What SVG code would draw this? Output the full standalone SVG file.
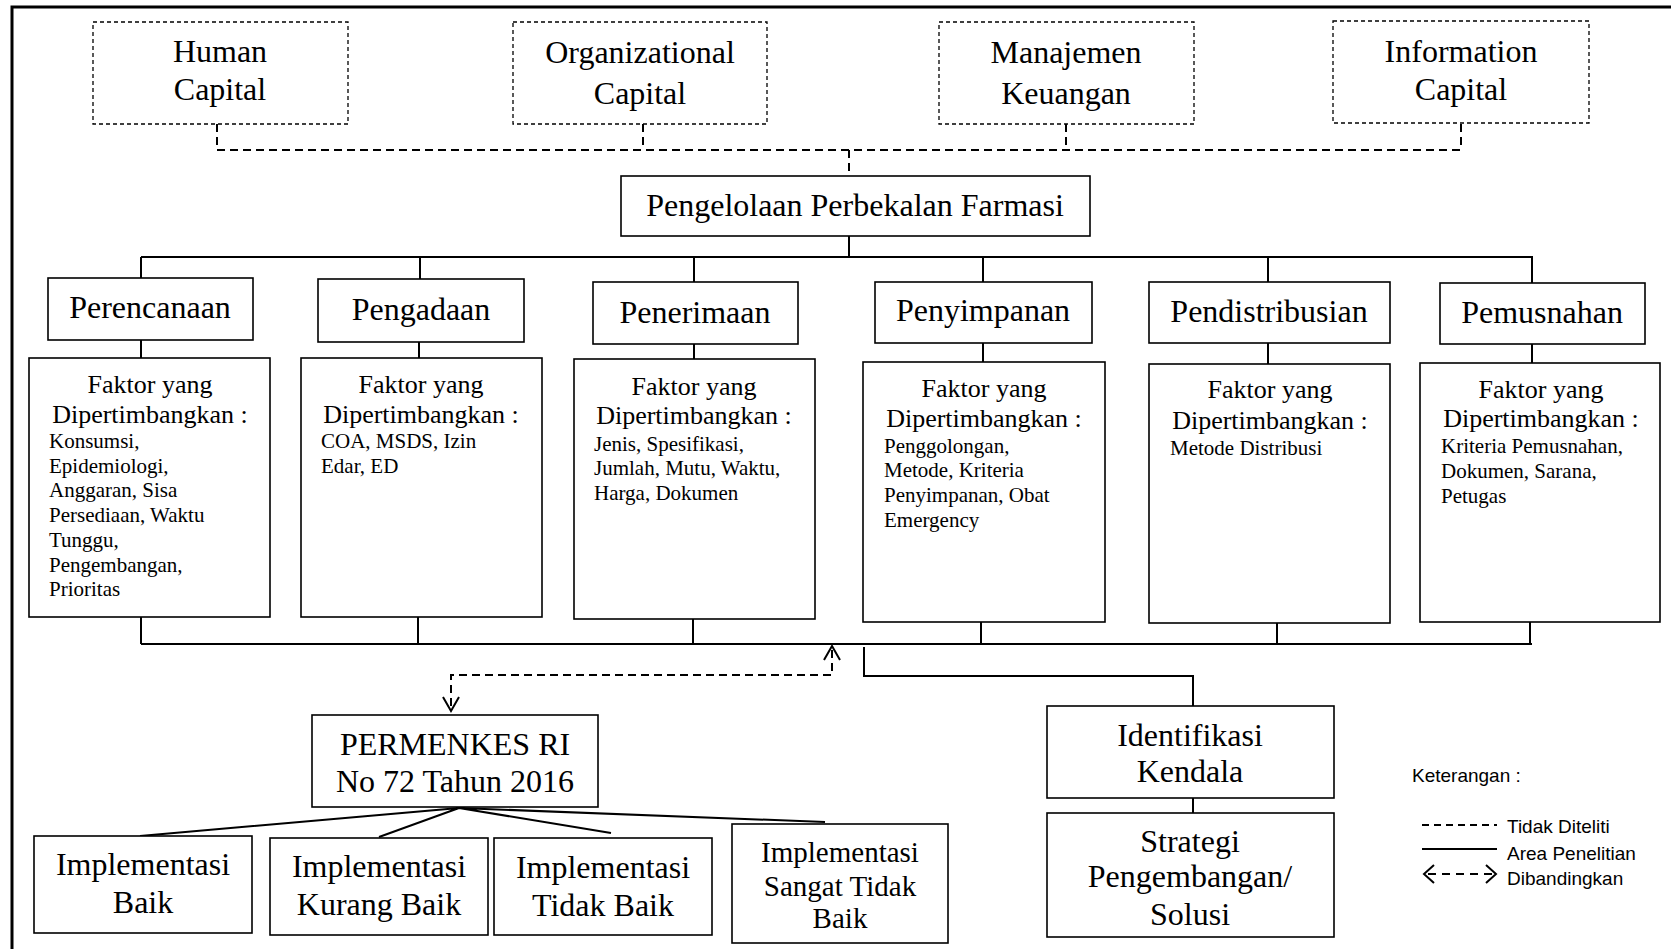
<svg xmlns="http://www.w3.org/2000/svg" width="1671" height="949" viewBox="0 0 1671 949">
<style>
.t{font-family:"Liberation Serif","Times New Roman",serif;fill:#000}
.c{text-anchor:middle}
.big{font-size:32px}
.mid{font-size:26px}
.sm{font-size:21px}
.leg{font-family:"Liberation Sans",Arial,sans-serif;font-size:19px;fill:#000}
.box{fill:#fff;stroke:#000;stroke-width:1.6}
.dbox{fill:#fff;stroke:#000;stroke-width:1.3;stroke-dasharray:4 3}
.ln{fill:none;stroke:#000;stroke-width:2}
.dln{fill:none;stroke:#000;stroke-width:2;stroke-dasharray:8 5}
.ah{fill:none;stroke:#000;stroke-width:2}
</style>
<rect x="0" y="0" width="1671" height="949" fill="#fff"/>
<path d="M12,949 V7 H1671" fill="none" stroke="#000" stroke-width="3"/>

<g id="connectors">
  <path class="dln" d="M217,124 V150 H1461 M643,124 V150 M1066,124 V150 M1461,124 V150 M849,150 V176"/>
  <path class="ln" d="M849,236 V257 M141,257 H1533 M141,257 V279 M420,257 V280 M694,257 V282 M983,257 V282 M1268,257 V282 M1532,257 V283"/>
  <path class="ln" d="M141,340 V358 M419,342 V358 M694,344 V359 M983,343 V362 M1268,343 V364 M1532,344 V363"/>
  <path class="ln" d="M141,617 V644 M418,617 V644 M693,619 V644 M981,622 V644 M1277,623 V644 M1530,622 V644 M141,644 H1532"/>
  <path class="dln" d="M832,650 V675 H451 V710"/>
  <path class="ah" d="M824,660 L832,646 L840,660"/>
  <path class="ah" d="M443,697 L451,711 L459,697"/>
  <path class="ln" d="M864,647 V676 H1193 V706 M1193,798 V813"/>
  <path class="ln" d="M459,808 L140,836 M459,808 L379,837 M459,808 L611,833 M459,808 L825,822"/>
</g>

<g id="human-capital"><rect class="dbox" x="93" y="22" width="255" height="102"/>
<text class="t big c" x="220" y="62">Human</text><text class="t big c" x="220" y="100">Capital</text></g>
<g id="organizational-capital"><rect class="dbox" x="513" y="22" width="254" height="102"/>
<text class="t big c" x="640" y="63">Organizational</text><text class="t big c" x="640" y="104">Capital</text></g>
<g id="manajemen-keuangan"><rect class="dbox" x="939" y="22" width="255" height="102"/>
<text class="t big c" x="1066" y="63">Manajemen</text><text class="t big c" x="1066" y="104">Keuangan</text></g>
<g id="information-capital"><rect class="dbox" x="1333" y="21" width="256" height="102"/>
<text class="t big c" x="1461" y="62">Information</text><text class="t big c" x="1461" y="100">Capital</text></g>

<g id="pengelolaan"><rect class="box" x="621" y="176" width="469" height="60"/>
<text class="t big c" x="855" y="216">Pengelolaan Perbekalan Farmasi</text></g>

<g id="perencanaan"><rect class="box" x="48" y="278" width="205" height="62"/>
<text class="t big c" x="150" y="318">Perencanaan</text></g>
<g id="pengadaan"><rect class="box" x="318" y="279" width="206" height="63"/>
<text class="t big c" x="421" y="320">Pengadaan</text></g>
<g id="penerimaan"><rect class="box" x="593" y="282" width="205" height="62"/>
<text class="t big c" x="695" y="323">Penerimaan</text></g>
<g id="penyimpanan"><rect class="box" x="875" y="282" width="217" height="61"/>
<text class="t big c" x="983" y="321">Penyimpanan</text></g>
<g id="pendistribusian"><rect class="box" x="1149" y="282" width="241" height="61"/>
<text class="t big c" x="1269" y="322">Pendistribusian</text></g>
<g id="pemusnahan"><rect class="box" x="1440" y="283" width="205" height="61"/>
<text class="t big c" x="1542" y="323">Pemusnahan</text></g>

<g id="faktor-perencanaan"><rect class="box" x="29" y="358" width="241" height="259"/>
<text class="t mid c" x="150" y="393">Faktor yang</text><text class="t mid c" x="150" y="423">Dipertimbangkan :</text>
<text class="t sm" x="49" y="448">Konsumsi,</text><text class="t sm" x="49" y="473">Epidemiologi,</text><text class="t sm" x="49" y="497">Anggaran, Sisa</text><text class="t sm" x="49" y="522">Persediaan, Waktu</text><text class="t sm" x="49" y="547">Tunggu,</text><text class="t sm" x="49" y="572">Pengembangan,</text><text class="t sm" x="49" y="596">Prioritas</text></g>
<g id="faktor-pengadaan"><rect class="box" x="301" y="358" width="241" height="259"/>
<text class="t mid c" x="421" y="393">Faktor yang</text><text class="t mid c" x="421" y="423">Dipertimbangkan :</text>
<text class="t sm" x="321" y="448">COA, MSDS, Izin</text><text class="t sm" x="321" y="473">Edar, ED</text></g>
<g id="faktor-penerimaan"><rect class="box" x="574" y="359" width="241" height="260"/>
<text class="t mid c" x="694" y="395">Faktor yang</text><text class="t mid c" x="694" y="424">Dipertimbangkan :</text>
<text class="t sm" x="594" y="451">Jenis, Spesifikasi,</text><text class="t sm" x="594" y="475">Jumlah, Mutu, Waktu,</text><text class="t sm" x="594" y="500">Harga, Dokumen</text></g>
<g id="faktor-penyimpanan"><rect class="box" x="863" y="362" width="242" height="260"/>
<text class="t mid c" x="984" y="397">Faktor yang</text><text class="t mid c" x="984" y="427">Dipertimbangkan :</text>
<text class="t sm" x="884" y="453">Penggolongan,</text><text class="t sm" x="884" y="477">Metode, Kriteria</text><text class="t sm" x="884" y="502">Penyimpanan, Obat</text><text class="t sm" x="884" y="527">Emergency</text></g>
<g id="faktor-pendistribusian"><rect class="box" x="1149" y="364" width="241" height="259"/>
<text class="t mid c" x="1270" y="398">Faktor yang</text><text class="t mid c" x="1270" y="429">Dipertimbangkan :</text>
<text class="t sm" x="1170" y="455">Metode Distribusi</text></g>
<g id="faktor-pemusnahan"><rect class="box" x="1420" y="363" width="240" height="259"/>
<text class="t mid c" x="1541" y="398">Faktor yang</text><text class="t mid c" x="1541" y="427">Dipertimbangkan :</text>
<text class="t sm" x="1441" y="453">Kriteria Pemusnahan,</text><text class="t sm" x="1441" y="478">Dokumen, Sarana,</text><text class="t sm" x="1441" y="503">Petugas</text></g>

<g id="permenkes"><rect class="box" x="312" y="715" width="286" height="92"/>
<text class="t big c" x="455" y="755">PERMENKES RI</text><text class="t big c" x="455" y="792">No 72 Tahun 2016</text></g>

<g id="impl-baik"><rect class="box" x="34" y="836" width="218" height="97"/>
<text class="t big c" x="143" y="875">Implementasi</text><text class="t big c" x="143" y="913">Baik</text></g>
<g id="impl-kurang"><rect class="box" x="270" y="838" width="218" height="97"/>
<text class="t big c" x="379" y="877">Implementasi</text><text class="t big c" x="379" y="915">Kurang Baik</text></g>
<g id="impl-tidak"><rect class="box" x="494" y="838" width="218" height="97"/>
<text class="t big c" x="603" y="878">Implementasi</text><text class="t big c" x="603" y="916">Tidak Baik</text></g>
<g id="impl-sangat"><rect class="box" x="732" y="824" width="216" height="119"/>
<text class="t c" style="font-size:29px" x="840" y="862">Implementasi</text><text class="t c" style="font-size:29px" x="840" y="896">Sangat Tidak</text><text class="t c" style="font-size:29px" x="840" y="928">Baik</text></g>

<g id="identifikasi"><rect class="box" x="1047" y="706" width="287" height="92"/>
<text class="t big c" x="1190" y="746">Identifikasi</text><text class="t big c" x="1190" y="782">Kendala</text></g>
<g id="strategi"><rect class="box" x="1047" y="813" width="287" height="124"/>
<text class="t big c" x="1190" y="852">Strategi</text><text class="t big c" x="1190" y="887">Pengembangan/</text><text class="t big c" x="1190" y="925">Solusi</text></g>

<g id="legend">
  <text class="leg" x="1412" y="782">Keterangan :</text>
  <line class="ln" x1="1422" y1="825" x2="1497" y2="825" stroke-dasharray="7 5" stroke-width="1.6"/>
  <text class="leg" x="1507" y="833">Tidak Diteliti</text>
  <line class="ln" x1="1422" y1="849" x2="1497" y2="849" stroke-width="1.6"/>
  <text class="leg" x="1507" y="860">Area Penelitian</text>
  <line class="ln" x1="1428" y1="874" x2="1492" y2="874" stroke-dasharray="8 6"/>
  <path class="ah" d="M1434,865 L1424,874 L1434,883 M1486,865 L1496,874 L1486,883"/>
  <text class="leg" x="1507" y="885">Dibandingkan</text>
</g>
</svg>
